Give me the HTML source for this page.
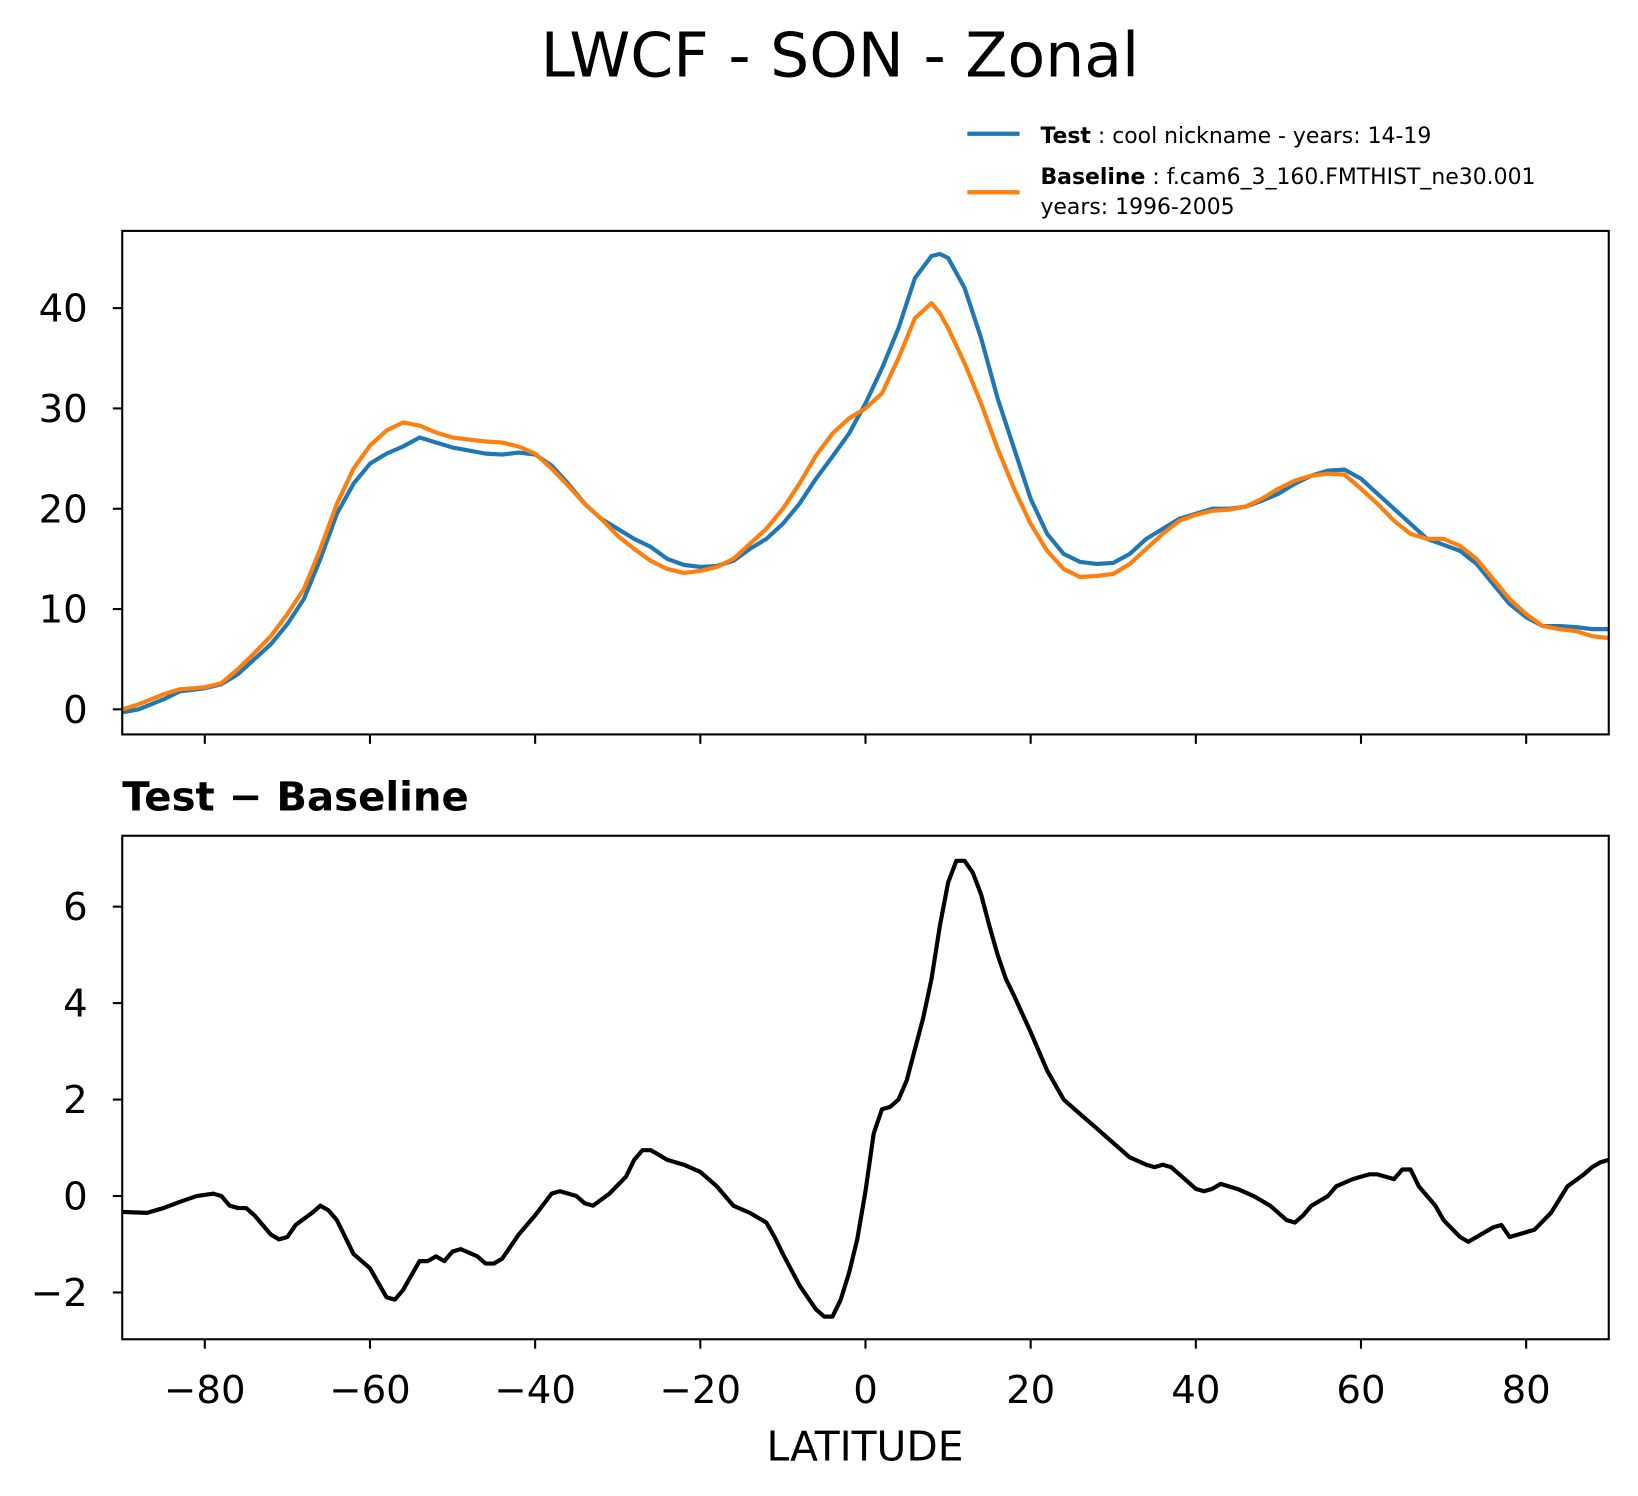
<!DOCTYPE html>
<html><head><meta charset="utf-8"><style>
html,body{margin:0;padding:0;background:#fff;}
svg{display:block;font-family:"DejaVu Sans","Liberation Sans",sans-serif;}
</style></head><body>
<svg id="fig" width="1638" height="1496" viewBox="0 0 1568 1432" xmlns="http://www.w3.org/2000/svg">
<rect width="1568" height="1432" fill="#fff"/>
<text x="804" y="73" font-size="59" text-anchor="middle">LWCF - SON - Zonal</text>
<g>
<line x1="926" y1="128" x2="976" y2="128" stroke="#1f77b4" stroke-width="4"/>
<text x="996" y="137" font-size="21"><tspan font-weight="bold">Test</tspan> : cool nickname - years: 14-19</text>
<line x1="926" y1="184" x2="976" y2="184" stroke="#ff7f0e" stroke-width="4"/>
<text x="996" y="176" font-size="21"><tspan font-weight="bold">Baseline</tspan> : f.cam6_3_160.FMTHIST_ne30.001</text>
<text x="996" y="205" font-size="21">years: 1996-2005</text>
</g>
<g id="top"></g>
<text x="117" y="776" font-size="38.5" font-weight="bold">Test − Baseline</text>
<g id="bot"></g>
<text x="828" y="1398" font-size="39" text-anchor="middle">LATITUDE</text>
</svg>
<script>
const lats=[-90,-88,-85,-83,-80,-78,-76,-74,-72,-70,-68,-66,-64,-62,-60,-58,-56,-54,-52,-50,-48,-46,-44,-42,-40,-38,-36,-34,-32,-30,-28,-26,-24,-22,-20,-18,-16,-14,-12,-10,-8,-6,-4,-2,0,2,4,6,8,9,10,12,14,16,18,20,22,24,26,28,30,32,34,36,38,40,42,44,46,48,50,52,54,56,58,60,62,64,66,68,70,72,74,76,78,80,82,84,86,88,90];
const testVals=[-0.3,0,1,1.8,2.1,2.5,3.5,5,6.5,8.5,11,15,19.5,22.5,24.5,25.5,26.2,27.1,26.6,26.1,25.8,25.5,25.4,25.6,25.4,24.3,22.5,20.5,19,18,17,16.2,15,14.4,14.2,14.3,14.8,16,17,18.5,20.5,23,25.2,27.5,30.5,34,38,43,45.2,45.4,45,42,37,31,26,21,17.5,15.5,14.7,14.5,14.6,15.5,17,18,19,19.5,20,20,20.2,20.8,21.5,22.5,23.3,23.8,23.9,23,21.5,20,18.5,17,16.4,15.8,14.5,12.5,10.5,9.2,8.3,8.3,8.2,8,8];
const baseVals=[0,0.5,1.5,2,2.2,2.6,4,5.6,7.3,9.5,12,16,20.5,24,26.3,27.8,28.6,28.3,27.6,27.1,26.9,26.7,26.6,26.2,25.5,24,22.3,20.5,19,17.3,16,14.8,14,13.6,13.8,14.2,15,16.5,18,20,22.5,25.3,27.5,29,30,31.5,35,39,40.5,39.5,38,34.5,30.5,26,22,18.5,15.8,14,13.2,13.3,13.5,14.5,16,17.5,18.8,19.4,19.8,19.9,20.2,21,22,22.8,23.3,23.5,23.4,22,20.5,18.8,17.5,17,17,16.3,15,13,11,9.5,8.3,8,7.8,7.3,7.1];
const diffLats=[-90,-87,-85,-83,-81,-79,-78,-77,-76,-75,-74,-72,-71,-70,-69,-67,-66,-65,-64,-62,-60,-58,-57,-56,-54,-53,-52,-51,-50,-49,-47,-46,-45,-44,-42,-40,-38,-37,-35,-34,-33,-31,-29,-28,-27,-26,-25,-24,-22,-20,-18,-16,-14,-12,-11,-10,-8,-6,-5,-4,-3,-2,-1,0,1,2,3,4,5,6,7,8,9,10,11,12,13,14,15,16,17,18,20,22,24,26,28,30,32,34,35,36,37,38,40,41,42,43,45,47,49,51,52,53,54,56,57,59,61,62,63,64,65,66,67,69,70,72,73,75,76,77,78,79,81,83,85,87,88,89,90];
const diffVals=[-0.33,-0.35,-0.25,-0.12,0,0.05,0,-0.2,-0.25,-0.25,-0.4,-0.8,-0.9,-0.85,-0.6,-0.35,-0.2,-0.3,-0.5,-1.2,-1.5,-2.1,-2.15,-1.95,-1.35,-1.35,-1.25,-1.35,-1.15,-1.1,-1.25,-1.4,-1.4,-1.3,-0.8,-0.4,0.05,0.1,0,-0.15,-0.2,0.05,0.4,0.75,0.95,0.95,0.85,0.75,0.65,0.5,0.2,-0.2,-0.35,-0.55,-0.85,-1.2,-1.85,-2.35,-2.5,-2.5,-2.15,-1.6,-0.9,0.1,1.3,1.8,1.85,2,2.4,3.05,3.7,4.5,5.6,6.5,6.95,6.95,6.7,6.25,5.6,5,4.5,4.15,3.4,2.6,2,1.7,1.4,1.1,0.8,0.65,0.6,0.65,0.6,0.45,0.15,0.1,0.15,0.25,0.15,0,-0.2,-0.5,-0.55,-0.4,-0.2,0,0.2,0.35,0.45,0.45,0.4,0.35,0.55,0.55,0.2,-0.2,-0.5,-0.85,-0.95,-0.75,-0.65,-0.6,-0.85,-0.8,-0.7,-0.35,0.2,0.45,0.6,0.7,0.75];
const xTicks=[-80,-60,-40,-20,0,20,40,60,80];
const topTicks=[0,10,20,30,40];
const botTicks=[-2,0,2,4,6];
const NS='http://www.w3.org/2000/svg';
const L=117,R=1540;
const xS=v=>L+(v+90)/180*(R-L);
function mk(p,t,a){const e=document.createElementNS(NS,t);for(const k in a)e.setAttribute(k,a[k]);p.appendChild(e);return e;}
function panel(g,top,bot,ymin,ymax,yt,series,showX){
  const yS=v=>bot-(v-ymin)/(ymax-ymin)*(bot-top);
  const cp='c'+top;
  const d=mk(g,'clipPath',{id:cp});mk(d,'rect',{x:L,y:top,width:R-L,height:bot-top});
  series.forEach(s=>{
    const pts=s.x.map((x,i)=>xS(x).toFixed(1)+','+yS(s.y[i]).toFixed(1)).join(' ');
    const pl=mk(g,'polyline',{points:pts,fill:'none',stroke:s.c,'stroke-width':4,'stroke-linejoin':'round','clip-path':'url(#'+cp+')'});
    
    
  });
  const fr=mk(g,'rect',{x:L,y:top,width:R-L,height:bot-top,fill:'none',stroke:'#000','stroke-width':2});
  
  
  yt.forEach(v=>{
    const y=yS(v);
    mk(g,'line',{x1:L-9,x2:L,y1:y,y2:y,stroke:'#000','stroke-width':2});
    const t=mk(g,'text',{x:L-33,y:y+13,'font-size':37,'text-anchor':'end'});
    t.textContent=(v<0?'\u2212':'')+Math.abs(v);
    
    
  });
  xTicks.forEach(v=>{
    const x=xS(v);
    mk(g,'line',{x1:x,x2:x,y1:bot,y2:bot+9,stroke:'#000','stroke-width':2});
    if(showX){
      const t=mk(g,'text',{x:x,y:bot+61,'font-size':37,'text-anchor':'middle'});
      t.textContent=(v<0?'\u2212':'')+Math.abs(v);
      
      
    }
  });
}
panel(document.getElementById('top'),221,703,-2.5,47.7,topTicks,[
  {x:lats,y:testVals,c:'#1f77b4',n:'test-line'},
  {x:lats,y:baseVals,c:'#ff7f0e',n:'baseline-line'}],false);
panel(document.getElementById('bot'),800,1282,-2.97,7.47,botTicks,[
  {x:diffLats,y:diffVals,c:'#000',n:'difference-line'}],true);
</script>
</body></html>
